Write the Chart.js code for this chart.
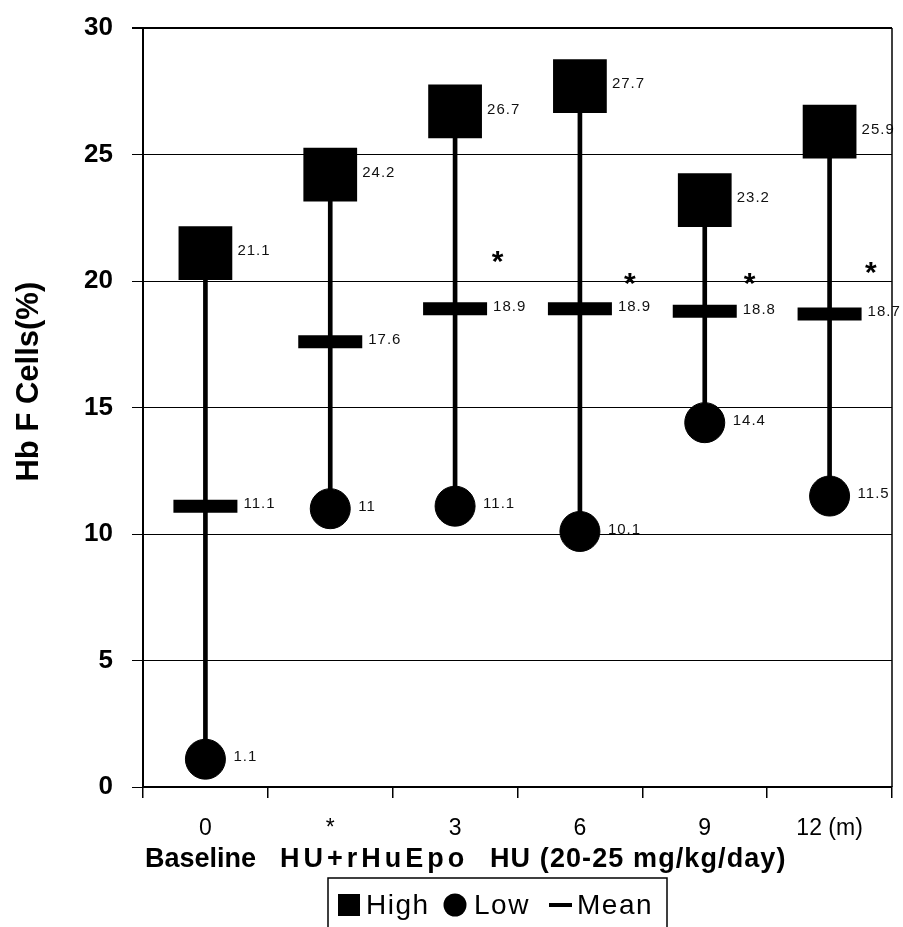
<!DOCTYPE html>
<html><head><meta charset="utf-8">
<script src="https://cdn.jsdelivr.net/npm/chart.js@4/dist/chart.umd.min.js"></script>
<style>html,body{margin:0;padding:0;background:#fff;}#wrap{width:903px;height:927px;position:relative;}</style>
</head><body><div id="wrap"><canvas id="c" width="903" height="927"></canvas></div>
<script>
const categories = ['0', '*', '3', '6', '9', '12 (m)'];
const highValues = [21.1, 24.2, 26.7, 27.7, 23.2, 25.9];
const lowValues  = [1.1, 11, 11.1, 10.1, 14.4, 11.5];
const meanValues = [11.1, 17.6, 18.9, 18.9, 18.8, 18.7];
const yTicks = [0, 5, 10, 15, 20, 25, 30];
const asteriskCategory = [2.34, 3.40, 4.36, 5.33];
const asteriskValue = [21.0, 20.1, 20.1, 20.55];
const legendLabels = ['High', 'Low', 'Mean'];
const xTitleParts = ['Baseline', 'HU+rHuEpo', 'HU (20-25 mg/kg/day)'];
const yTitle = 'Hb F Cells(%)';

const ranges = lowValues.map((l, i) => [l, highValues[i]]);
const ARIAL = '"Liberation Sans", Arial, sans-serif';

const labelPlugin = {
  id: 'valueLabels',
  afterDatasetsDraw(chart) {
    const ctx = chart.ctx;
    const offsets = [32, 28, 38];
    ctx.save();
    ctx.font = '15px ' + ARIAL;
    ctx.letterSpacing = '1px';
    ctx.fillStyle = '#111';
    ctx.textAlign = 'left';
    ctx.textBaseline = 'middle';
    [0, 1, 2].forEach(di => {
      const meta = chart.getDatasetMeta(di);
      const ds = chart.data.datasets[di];
      meta.data.forEach((pt, i) => {
        ctx.fillText(String(ds.data[i]), pt.x + offsets[di], pt.y - 2);
      });
    });
    const xs = chart.scales.x, ys = chart.scales.y;
    const step = xs.getPixelForValue(1) - xs.getPixelForValue(0);
    ctx.letterSpacing = '0px';
    ctx.font = 'bold 30px ' + ARIAL;
    ctx.fillStyle = '#000';
    ctx.textAlign = 'center';
    ctx.textBaseline = 'alphabetic';
    asteriskCategory.forEach((c, i) => {
      const base = Math.floor(c);
      const px = xs.getPixelForValue(base) + (c - base) * step;
      const py = ys.getPixelForValue(asteriskValue[i]);
      ctx.fillText('*', px, py + 15);
    });
    ctx.restore();
  },
  afterDraw(chart) {
    const ctx = chart.ctx;
    const a = chart.chartArea;
    ctx.save();
    ctx.strokeStyle = '#000';
    ctx.lineWidth = 1.5;
    ctx.beginPath();
    ctx.moveTo(a.right, a.top);
    ctx.lineTo(a.right, a.bottom);
    ctx.stroke();
    ctx.fillStyle = '#000';
    ctx.font = 'bold 27px ' + ARIAL;
    ctx.textBaseline = 'alphabetic';
    ctx.textAlign = 'left';
    const tx = [145, 280, 490], ts = ['0px', '4px', '1.1px'];
    xTitleParts.forEach((t, i) => { ctx.letterSpacing = ts[i]; ctx.fillText(t, tx[i], 867); });
    ctx.letterSpacing = '0px';
    ctx.lineWidth = 1.5;
    ctx.strokeRect(328, 878, 339, 80);
    const cy = 905;
    ctx.fillRect(338, cy - 11, 22, 22);
    ctx.beginPath();
    ctx.arc(455, cy, 11.5, 0, Math.PI * 2);
    ctx.fill();
    ctx.fillRect(549, cy - 2, 23, 4);
    ctx.font = '28px ' + ARIAL;
    ctx.letterSpacing = '1.5px';
    ctx.textBaseline = 'middle';
    ctx.fillText(legendLabels[0], 366, cy + 1);
    ctx.fillText(legendLabels[1], 474, cy + 1);
    ctx.fillText(legendLabels[2], 577, cy + 1);
    ctx.restore();
  }
};

new Chart(document.getElementById('c'), {
  type: 'bar',
  data: {
    labels: categories,
    datasets: [
      { type: 'line', label: legendLabels[0], data: highValues, showLine: false, pointStyle: 'rect',
        pointRadius: 38, pointHoverRadius: 38, pointBackgroundColor: '#000', pointBorderWidth: 0, order: 1, clip: false },
      { type: 'line', label: legendLabels[1], data: lowValues, showLine: false, pointStyle: 'circle',
        pointRadius: 20, pointHoverRadius: 20, pointBackgroundColor: '#000', pointBorderColor: '#000', pointBorderWidth: 1, order: 2, clip: false },
      { type: 'line', label: legendLabels[2], data: meanValues, showLine: false, pointStyle: 'line',
        pointRadius: 32, pointHoverRadius: 32, pointBorderColor: '#000', pointBackgroundColor: '#000', pointBorderWidth: 13, order: 3, clip: false },
      { type: 'bar', label: 'Range', data: ranges, backgroundColor: '#000', barThickness: 4, order: 10 }
    ]
  },
  options: {
    responsive: false,
    devicePixelRatio: 1,
    animation: false,
    layout: { autoPadding: false, padding: { left: 0, right: 11, top: 28, bottom: 0 } },
    plugins: { legend: { display: false }, tooltip: { enabled: false } },
    scales: {
      x: {
        offset: true,
        grid: { display: true, drawOnChartArea: false, drawTicks: true, tickLength: 11, color: '#000', lineWidth: 1.5, offset: true },
        border: { display: true, color: '#000', width: 2 },
        ticks: { color: '#000', font: { family: ARIAL, size: 23 }, padding: 17, maxRotation: 0, autoSkip: false },
        afterFit(s) { s.height = 140; s.paddingLeft = 0; s.paddingRight = 0; }
      },
      y: {
        min: 0, max: 30,
        afterBuildTicks(s) { s.ticks = yTicks.map(v => ({ value: v })); },
        ticks: { color: '#000', font: { family: ARIAL, size: 26, weight: 'bold' }, padding: 19 },
        grid: { color: '#000', lineWidth: c => (c.tick && c.tick.value === 30 ? 2 : 1), tickLength: 11, drawTicks: true },
        border: { display: true, color: '#000', width: 2 },
        title: { display: true, text: '      ' + yTitle, color: '#000',
                 font: { family: ARIAL, size: 31, weight: 'bold' }, padding: { top: 11, bottom: 0 } },
        afterFit(s) { s.width = 143; s.paddingTop = 0; s.paddingBottom = 0; }
      }
    }
  },
  plugins: [labelPlugin]
});
</script>
</body></html>
